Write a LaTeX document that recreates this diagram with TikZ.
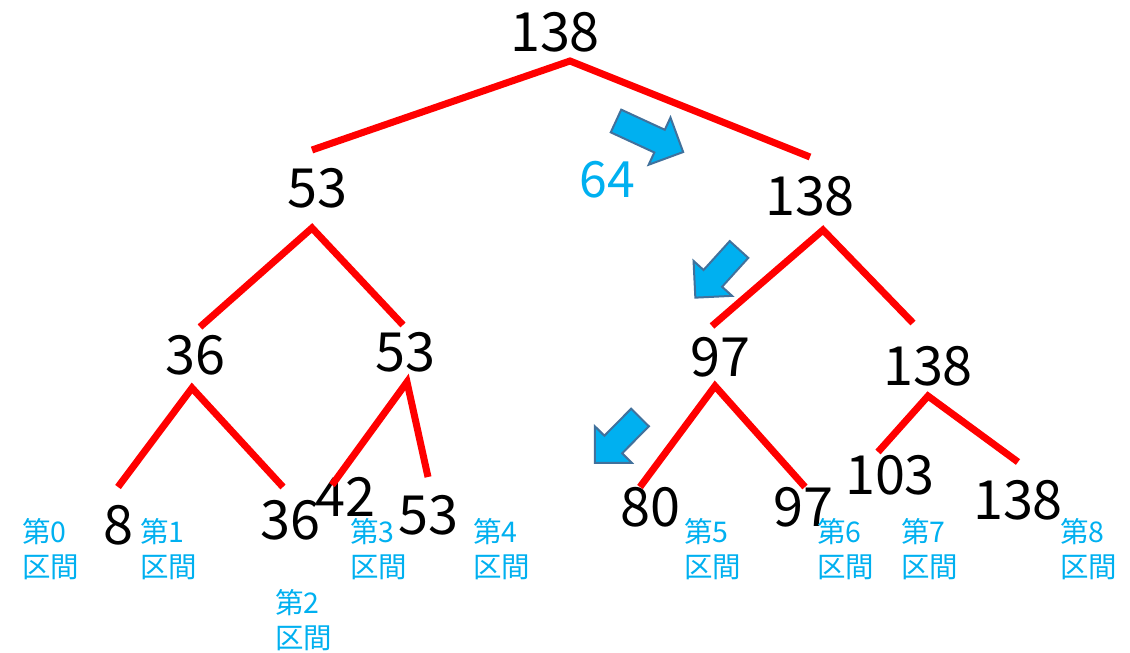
\documentclass[tikz,border=0pt]{standalone}
\usepackage{fontspec}
\setmainfont{Noto Sans CJK JP}
\definecolor{treered}{HTML}{FF0000}
\definecolor{segblue}{HTML}{00B0F0}
\definecolor{arrowrim}{HTML}{41719C}

\begin{document}
\begin{tikzpicture}[
    x=1pt, y=-1pt,
    num/.style={inner sep=0, font=\fontsize{54}{60}\selectfont},
    seglabel/.style={inner sep=0, anchor=north west, align=left, text=segblue, font=\fontsize{28.5}{35}\selectfont},
    redline/.style={line width=7pt, color=treered},
    arrowbox/.style={fill=segblue, draw=arrowrim, line width=2pt},
    pics/blkarrow/.style={code={
        \draw[arrowbox] (0,-12.5) -- (#1-26,-12.5) -- (#1-26,-26) -- (#1,0)
            -- (#1-26,26) -- (#1-26,12.5) -- (0,12.5) -- cycle;}}
]
\useasboundingbox (0,0) rectangle (1130,653);

% values
\node[num] (top138) at (555,32) {138};
\node[num] (mid53) at (317,188) {53};
\node[num] (mid138) at (810,196) {138};
\node[num] (q36) at (195,355) {36};
\node[num] (q53) at (405,352) {53};
\node[num] (q97) at (720,357) {97};
\node[num] (q138) at (928,366) {138};
\node[num] (leaf8) at (118,525) {8};
\node[num] (leaf36) at (290,520) {36};
\node[num] (leaf42) at (345,497) {42};
\node[num] (leaf53) at (428,515) {53};
\node[num] (leaf80) at (650,507) {80};
\node[num] (leaf97) at (803,507) {97};
\node[num] (leaf103) at (890,475) {103};
\node[num] (leaf138) at (1018,500) {138};
\node[num, text=segblue, font=\fontsize{50}{56}\selectfont] (val64) at (607,180) {64};

% segments
\node[seglabel] (seg0) at (22,518) {第0\\区間};
\node[seglabel] (seg1) at (140,518) {第1\\区間};
\node[seglabel] (seg2) at (275,589) {第2\\区間};
\node[seglabel] (seg3) at (350,518) {第3\\区間};
\node[seglabel] (seg4) at (473,518) {第4\\区間};
\node[seglabel] (seg5) at (684,518) {第5\\区間};
\node[seglabel] (seg6) at (817,518) {第6\\区間};
\node[seglabel] (seg7) at (901,518) {第7\\区間};
\node[seglabel] (seg8) at (1060,518) {第8\\区間};

% branch points
\coordinate (fork0) at (570,61);
\coordinate (fork1) at (312,228);
\coordinate (fork2) at (823,230);
\coordinate (fork3) at (192,388);
\coordinate (fork4) at (407,382);
\coordinate (fork5) at (715,386);
\coordinate (fork6) at (928,396);
\coordinate (end1a) at (312,150);
\coordinate (end1b) at (810,157);
\coordinate (end2a) at (200,327);
\coordinate (end2b) at (403,325);
\coordinate (end3a) at (712,326);
\coordinate (end3b) at (913,323);
\coordinate (end4a) at (118,487);
\coordinate (end4b) at (283,487);
\coordinate (end5a) at (332,485);
\coordinate (end5b) at (428,477);
\coordinate (end6a) at (640,487);
\coordinate (end6b) at (805,487);
\coordinate (end7a) at (878,452);
\coordinate (end7b) at (1018,462);

\foreach \f/\a/\b in {fork0/end1a/end1b, fork1/end2a/end2b, fork2/end3a/end3b,
    fork3/end4a/end4b, fork4/end5a/end5b, fork5/end6a/end6b, fork6/end7a/end7b}
    \draw[redline] (\a) -- (\f) -- (\b);

% block arrows
\pic[rotate=-24.8] at (616,121) {blkarrow=74};
\pic[rotate=-132.2] at (739,249.5) {blkarrow=65};
\pic[rotate=-134.7] at (640,417.5) {blkarrow=64};
\end{tikzpicture}
\end{document}
